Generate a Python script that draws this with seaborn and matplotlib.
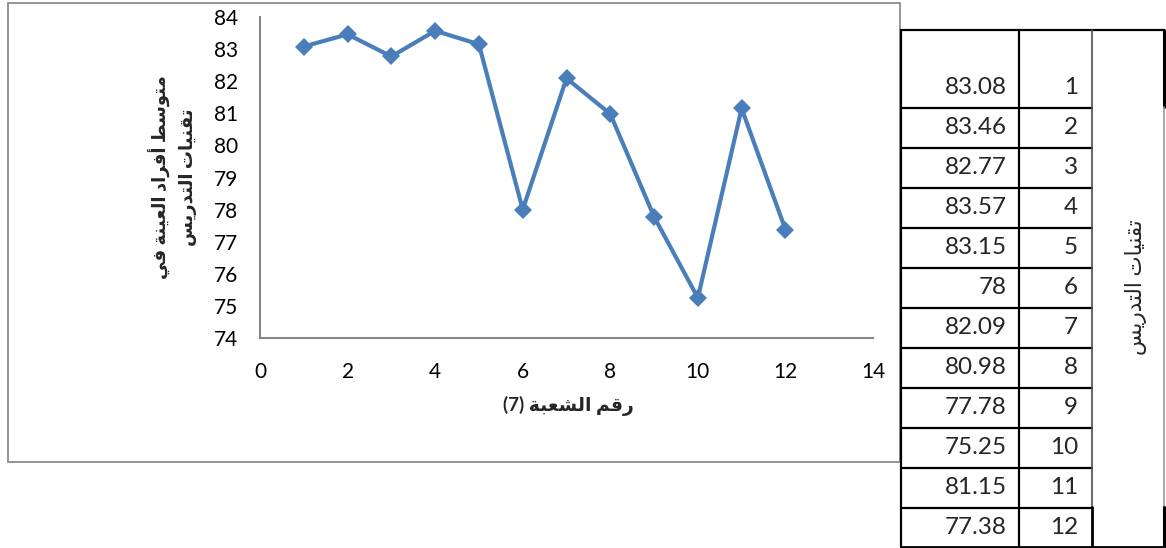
import matplotlib
matplotlib.use("Agg")
import matplotlib.pyplot as plt
import seaborn as sns
import pandas as pd
from matplotlib.patches import Rectangle

# chart data (section number -> mean score)
sections = [1, 2, 3, 4, 5, 6, 7, 8, 9, 10, 11, 12]
means = [83.08, 83.46, 82.77, 83.57, 83.15, 78, 82.09, 80.98, 77.78, 75.25, 81.15, 77.38]
x_ticks = [0, 2, 4, 6, 8, 10, 12, 14]
y_ticks = [74, 75, 76, 77, 78, 79, 80, 81, 82, 83, 84]

x_title = "رقم الشعبة"
x_title_num = "(7)"
y_title_lines = ["متوسط أفراد العينة في", "تقنيات التدريس"]
table_title = "تقنيات التدريس"

BLUE = "#4A7EBB"
GRAY = "#868686"

# minimal arabic shaping (matplotlib has no bidi / joining support)
FORMS = {
    "ا": ("\uFE8D", "\uFE8E"), "أ": ("\uFE83", "\uFE84"), "د": ("\uFEA9", "\uFEAA"),
    "ر": ("\uFEAD", "\uFEAE"), "و": ("\uFEED", "\uFEEE"), "ة": ("\uFE93", "\uFE94"),
    "ب": ("\uFE8F", "\uFE90", "\uFE91", "\uFE92"), "ت": ("\uFE95", "\uFE96", "\uFE97", "\uFE98"),
    "س": ("\uFEB1", "\uFEB2", "\uFEB3", "\uFEB4"), "ش": ("\uFEB5", "\uFEB6", "\uFEB7", "\uFEB8"),
    "ط": ("\uFEC1", "\uFEC2", "\uFEC3", "\uFEC4"), "ع": ("\uFEC9", "\uFECA", "\uFECB", "\uFECC"),
    "ف": ("\uFED1", "\uFED2", "\uFED3", "\uFED4"), "ق": ("\uFED5", "\uFED6", "\uFED7", "\uFED8"),
    "ل": ("\uFEDD", "\uFEDE", "\uFEDF", "\uFEE0"), "م": ("\uFEE1", "\uFEE2", "\uFEE3", "\uFEE4"),
    "ن": ("\uFEE5", "\uFEE6", "\uFEE7", "\uFEE8"), "ي": ("\uFEF1", "\uFEF2", "\uFEF3", "\uFEF4"),
}


def shape(text):
    out = []
    for i, ch in enumerate(text):
        if ch not in FORMS:
            out.append(ch)
            continue
        f = FORMS[ch]
        prev_join = i > 0 and text[i - 1] in FORMS and len(FORMS[text[i - 1]]) == 4
        next_join = len(f) == 4 and i + 1 < len(text) and text[i + 1] in FORMS
        if prev_join and next_join:
            out.append(f[3])
        elif prev_join:
            out.append(f[1])
        elif next_join:
            out.append(f[2])
        else:
            out.append(f[0])
    return "".join(out)[::-1]


sns.set_style("white")
plt.rcParams["font.family"] = ["Lato", "DejaVu Sans"]

fig = plt.figure(figsize=(11.66, 5.48), dpi=100)

# pixel overlay for the chart frame and the side table
bg = fig.add_axes([0, 0, 1, 1], zorder=-1)
bg.set_xlim(0, 1166)
bg.set_ylim(548, 0)
bg.axis("off")
bg.add_patch(Rectangle((8, 3), 892, 459, fill=False, ec="#8C8C8C", lw=1.3))

ax = fig.add_axes([260 / 1166, 1 - 338 / 548, 613 / 1166, 321 / 548])
ax.patch.set_alpha(0)

df = pd.DataFrame({"section": sections, "mean": means})
sns.lineplot(data=df, x="section", y="mean", ax=ax, color=BLUE, linewidth=3,
             marker="D", markersize=9.5, markeredgewidth=0)

ax.set_xlim(0, 14)
ax.set_ylim(74, 84)
ax.set_xticks(x_ticks)
ax.set_yticks(y_ticks)
ax.tick_params(axis="both", direction="out", length=6, width=1.3, color=GRAY,
               labelsize=15, labelcolor="black")
ax.tick_params(axis="x", pad=11)
ax.tick_params(axis="y", pad=10)
for s in ["top", "right"]:
    ax.spines[s].set_visible(False)
for s in ["left", "bottom"]:
    ax.spines[s].set_color(GRAY)
    ax.spines[s].set_linewidth(1.5)

ax.set_xlabel(x_title_num + " " + shape(x_title), fontsize=13.5, fontweight="bold", va="center")
ax.xaxis.set_label_coords((568 - 260) / 613, (338 - 406) / 321)
ax.set_ylabel("\n".join(shape(t) for t in y_title_lines), fontsize=13, fontweight="bold",
              va="center", multialignment="center", linespacing=1.55)
ax.yaxis.set_label_coords((173 - 260) / 613, 0.5)

# side table
lw = 1.6
bg.plot([901, 1164], [30, 30], color="black", lw=lw)
bg.plot([901, 1164], [547, 547], color="black", lw=2)
for k in range(len(sections)):
    yb = 108 + 40 * k
    if k < len(sections) - 1:
        bg.plot([901, 1092], [yb, yb], color="black", lw=lw)
    yc = yb - 21
    bg.text(1007, yc, f"{means[k]:g}", ha="right", va="center", fontsize=17.5)
    bg.text(1078, yc, str(sections[k]), ha="right", va="center", fontsize=17.5)
for x in [901, 1019]:
    bg.plot([x, x], [30, 547], color="black", lw=lw)
bg.plot([1092, 1092], [30, 507], color="#505050", lw=1.2)
bg.plot([1092, 1092], [507, 547], color="black", lw=2)
bg.plot([1164, 1164], [30, 107], color="black", lw=2.2)
bg.plot([1164, 1164], [107, 507], color="#9A9A9A", lw=1.2)
bg.plot([1164, 1164], [507, 547], color="black", lw=2.2)
bg.text(1136, 287, shape(table_title), rotation=90, ha="center", va="center", fontsize=15.5)

fig.savefig("out.png", dpi=100)
